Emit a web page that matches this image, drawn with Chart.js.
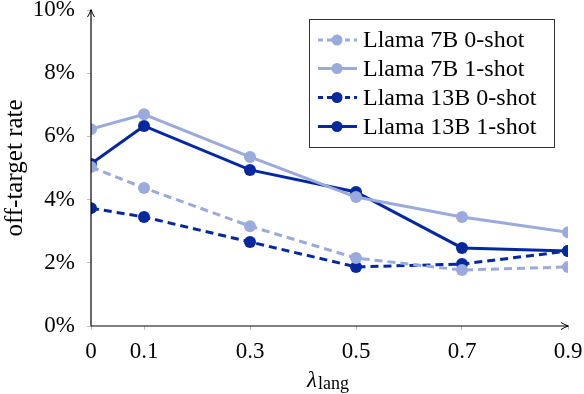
<!DOCTYPE html>
<html><head><meta charset="utf-8">
<script src="https://cdn.jsdelivr.net/npm/chart.js@4/dist/chart.umd.min.js"></script>
<style>html,body{margin:0;padding:0;background:#fff}#w{width:584px;height:394px}</style>
</head><body><div id="w"><canvas id="c" width="584" height="394"></canvas></div>
<script>
const lambdas = [0, 0.1, 0.3, 0.5, 0.7, 0.9];
const xTicks = [0, 0.1, 0.3, 0.5, 0.7, 0.9];
const yTicks = [0, 2, 4, 6, 8, 10];
const seriesNames = ["Llama 7B 0-shot", "Llama 7B 1-shot", "Llama 13B 0-shot", "Llama 13B 1-shot"];
const llama7b0 = [5.03, 4.37, 3.16, 2.15, 1.77, 1.87];
const llama7b1 = [6.23, 6.70, 5.35, 4.08, 3.45, 2.97];
const llama13b0 = [3.73, 3.45, 2.66, 1.87, 1.96, 2.37];
const llama13b1 = [5.13, 6.33, 4.94, 4.24, 2.47, 2.37];

const LIGHT = 'rgb(154,170,220)';
const DARK = 'rgb(4,40,160)';
const FONT = "'Liberation Serif', 'DejaVu Serif', serif";

function pts(arr){ return lambdas.map((x,i)=>({x:x,y:arr[i]})); }
function ds(label, arr, color, dashed){
  return {label, data: pts(arr), borderColor: color, backgroundColor: color,
    borderWidth: 3, borderDash: dashed ? [8,5] : [], pointRadius: 6,
    pointBorderWidth: 0, pointStyle: 'circle', tension: 0, fill: false};
}

const extras = {
  id: 'extras',
  afterDraw(chart){
    const ctx = chart.ctx, a = chart.chartArea;
    ctx.save();
    ctx.strokeStyle = '#000'; ctx.fillStyle = '#000'; ctx.lineWidth = 1.2;
    ctx.beginPath(); ctx.moveTo(a.left, a.bottom); ctx.lineTo(a.left, a.top); ctx.stroke();
    ctx.beginPath(); ctx.moveTo(a.left, a.bottom); ctx.lineTo(a.right, a.bottom); ctx.stroke();
    ctx.lineWidth = 1;
    ctx.beginPath(); ctx.moveTo(a.left-3.5, a.top+7); ctx.quadraticCurveTo(a.left-1, a.top+3, a.left, a.top-0.5);
    ctx.quadraticCurveTo(a.left+1, a.top+3, a.left+3.5, a.top+7); ctx.stroke();
    ctx.beginPath(); ctx.moveTo(a.right-7, a.bottom-3.5); ctx.quadraticCurveTo(a.right-3, a.bottom-1, a.right+0.5, a.bottom);
    ctx.quadraticCurveTo(a.right-3, a.bottom+1, a.right-7, a.bottom+3.5); ctx.stroke();
    // x title lambda_lang
    ctx.fillStyle = '#000'; ctx.textBaseline = 'alphabetic'; ctx.textAlign = 'left';
    ctx.font = "italic 23px " + FONT;
    const w1 = ctx.measureText('λ').width;
    ctx.fillText('λ', 307, 387);
    ctx.font = "18px " + FONT;
    ctx.fillText('lang', 307 + w1 + 1, 389);
    // legend
    const lx = 309, ly = 19, lw = 245, lh = 128;
    ctx.fillStyle = '#fff'; ctx.fillRect(lx, ly, lw, lh);
    ctx.strokeStyle = '#333'; ctx.lineWidth = 1; ctx.strokeRect(lx+0.5, ly+0.5, lw, lh);
    const rows = [40, 68.5, 97.5, 126.5];
    chart.data.datasets.forEach((d, i) => {
      const y = rows[i];
      ctx.strokeStyle = d.borderColor; ctx.lineWidth = 3;
      ctx.setLineDash(d.borderDash.length ? [5,4] : []);
      ctx.beginPath(); ctx.moveTo(318, y); ctx.lineTo(357, y); ctx.stroke();
      ctx.setLineDash([]);
      ctx.fillStyle = d.borderColor;
      ctx.beginPath(); ctx.arc(337, y, 5.5, 0, Math.PI*2); ctx.fill();
      ctx.fillStyle = '#000'; ctx.font = "24px " + FONT;
      ctx.textAlign = 'left'; ctx.textBaseline = 'middle';
      ctx.fillText(d.label, 363, y + 1);
    });
    ctx.restore();
  }
};

new Chart(document.getElementById('c'), {
  type: 'line',
  data: { datasets: [
    ds(seriesNames[0], llama7b0, LIGHT, true),
    ds(seriesNames[1], llama7b1, LIGHT, false),
    ds(seriesNames[2], llama13b0, DARK, true),
    ds(seriesNames[3], llama13b1, DARK, false)
  ]},
  options: {
    responsive: false, animation: false, devicePixelRatio: 1,
    layout: { padding: { top: 10, right: 16, left: 0, bottom: 0 } },
    plugins: { legend: { display: false }, tooltip: { enabled: false } },
    scales: {
      x: { type: 'linear', min: 0, max: 0.9,
        afterBuildTicks(s){ s.ticks = xTicks.map(v=>({value:v})); },
        afterFit(s){ s.height = 68; s.paddingLeft = 0; s.paddingRight = 0; },
        grid: { drawOnChartArea: false, drawTicks: true, tickLength: 4, color: '#bbb' },
        border: { display: false },
        ticks: { color: '#000', font: { family: FONT, size: 23 }, padding: 8,
          callback: v => String(v) }
      },
      y: { type: 'linear', min: 0, max: 10,
        afterBuildTicks(s){ s.ticks = yTicks.map(v=>({value:v})); },
        afterFit(s){ s.width = 91; s.paddingTop = 0; s.paddingBottom = 0; },
        grid: { drawOnChartArea: false, drawTicks: true, tickLength: 4, color: '#bbb' },
        border: { display: false },
        ticks: { color: '#000', font: { family: FONT, size: 23 }, padding: 12,
          callback: v => v + '%' },
        title: { display: true, text: 'off-target rate', color: '#000',
          font: { family: FONT, size: 25 }, padding: { top: 0, bottom: 0 } }
      }
    }
  },
  plugins: [extras]
});
</script></body></html>
